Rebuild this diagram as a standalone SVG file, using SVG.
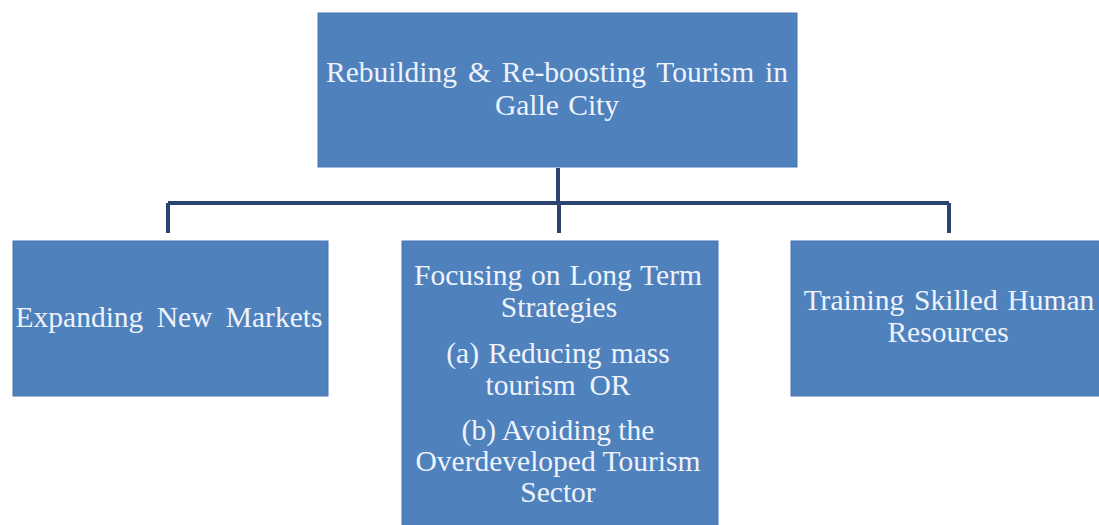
<svg xmlns="http://www.w3.org/2000/svg" width="1099" height="525" viewBox="0 0 1099 525">
<style>
.box{fill:#4f81bd;stroke:#4677b3;stroke-width:1}
.t{font-family:'Liberation Serif','Times New Roman',serif;font-size:29.5px;fill:#eef3fb;text-anchor:middle}
.con{stroke:#2b4570;stroke-width:4;fill:none}
</style>
<rect width="1099" height="525" fill="#ffffff"/>
<g id="connectors">
<path class="con" d="M558 168 V203 M168 203 H949 M168 203 V233 M559 203 V233 M949 203 V233"/>
</g>
<g id="root">
<rect class="box" x="318" y="13" width="479" height="154"/>
<text class="t" x="557" y="82" word-spacing="3.5">Rebuilding &amp; Re-boosting Tourism in</text>
<text class="t" x="557" y="115" word-spacing="2">Galle City</text>
</g>
<g id="expanding">
<rect class="box" x="13" y="241" width="315" height="155"/>
<text class="t" x="169" y="327" word-spacing="6">Expanding New Markets</text>
</g>
<g id="focusing">
<rect class="box" x="402" y="241" width="316" height="290"/>
<text class="t" x="558" y="285" word-spacing="1.5">Focusing on Long Term</text>
<text class="t" x="559" y="317">Strategies</text>
<text class="t" x="558" y="363" word-spacing="2">(a) Reducing mass</text>
<text class="t" x="558" y="395" word-spacing="6.5">tourism OR</text>
<text class="t" x="558" y="440">(b) Avoiding the</text>
<text class="t" x="558" y="471">Overdeveloped Tourism</text>
<text class="t" x="558" y="502">Sector</text>
</g>
<g id="training">
<rect class="box" x="791" y="241" width="320" height="155"/>
<text class="t" x="949" y="310" word-spacing="2.5">Training Skilled Human</text>
<text class="t" x="948" y="342">Resources</text>
</g>
</svg>
